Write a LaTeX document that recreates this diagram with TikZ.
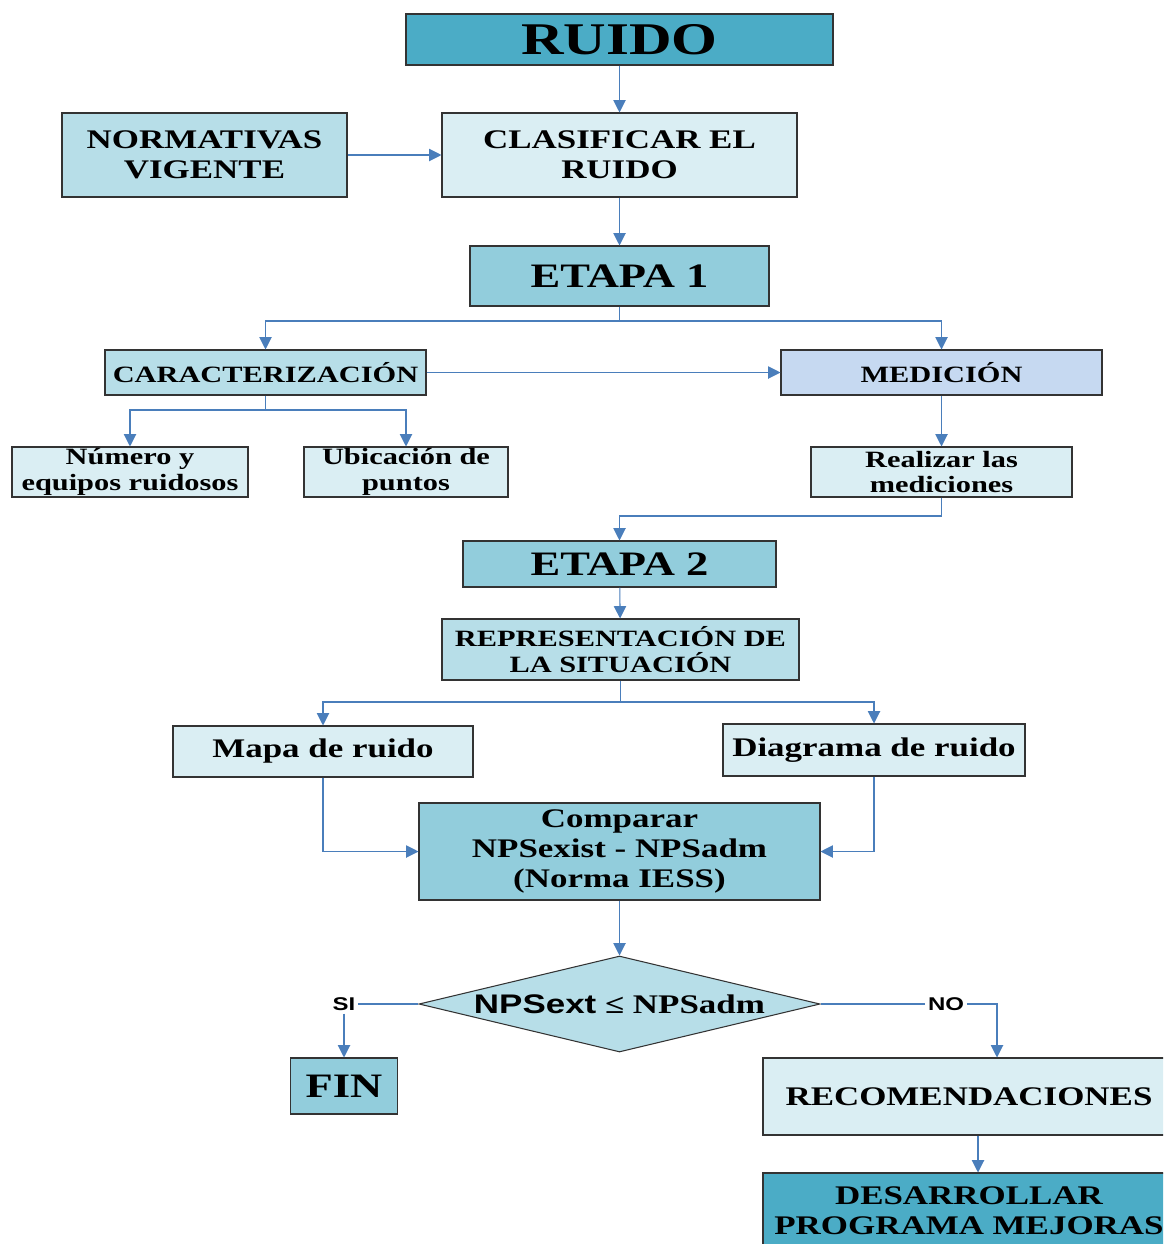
\documentclass[tikz,border=0pt]{standalone}
\usepackage{fontspec}
\setmainfont{Liberation Serif}[FakeStretch=1.3]
\newfontfamily\arialb{Liberation Sans}[FakeStretch=1.3]
\usetikzlibrary{arrows.meta,shapes.geometric}

\definecolor{tealbox}{HTML}{4BACC6}
\definecolor{midbox}{HTML}{92CDDC}
\definecolor{lightbox}{HTML}{B7DEE8}
\definecolor{palebox}{HTML}{DAEEF3}
\definecolor{medbox}{HTML}{C6D9F1}
\definecolor{linkblue}{HTML}{4A7EBB}

\begin{document}
\begin{tikzpicture}
[
	x=0.02cm,
	y=-0.02cm,
	box/.style={draw=black!80,line width=0.6pt,inner sep=0pt,align=center},
	sz/.style 2 args={minimum width=#1*0.02cm,minimum height=#2*0.02cm},
	txthuge/.style={font=\fontsize{25.8}{28}\selectfont\bfseries},
	txtbig/.style={font=\fontsize{19.5}{22}\selectfont\bfseries},
	txtmid/.style={font=\fontsize{15.3}{17}\selectfont\bfseries},
	txtsmall/.style={font=\fontsize{13.3}{14.5}\selectfont\bfseries},
	lbl/.style={font=\arialb\fontsize{10.5}{12}\selectfont\bfseries,inner sep=1.5pt},
	link/.style={draw=linkblue,line width=0.6pt,-{Triangle[length=7pt,width=7pt]}},
	plain/.style={draw=linkblue,line width=0.6pt}
]

	\path[use as bounding box,clip] (0,0) rectangle (1163,1244);

	% top
	\node[box,fill=tealbox,sz={427}{51},txthuge] (ruido) at (619.5,39.5) {RUIDO};
	\node[box,fill=lightbox,sz={285}{84},txtmid] (norm) at (204.5,155) {NORMATIVAS\\VIGENTE};
	\node[box,fill=palebox,sz={355}{84},txtmid] (clasif) at (619.5,155) {CLASIFICAR EL\\RUIDO};
	\node[box,fill=midbox,sz={299}{60},txtbig] (etapa1) at (619.5,276) {ETAPA 1};

	% etapa 1
	\node[box,fill=lightbox,sz={321}{45},txtsmall] (caract) at (265.5,372.5) {CARACTERIZACIÓN};
	\node[box,fill=medbox,sz={321}{45},txtsmall] (medicion) at (941.5,372.5) {MEDICIÓN};
	\node[box,fill=palebox,sz={236}{50},txtsmall] (numero) at (130,472) {Número y\\equipos ruidosos};
	\node[box,fill=palebox,sz={204}{50},txtsmall] (ubicacion) at (406,472) {Ubicación de\\puntos};
	\node[box,fill=palebox,sz={261}{50},txtsmall] (realizar) at (941.5,472) {Realizar las\\mediciones};

	% etapa 2
	\node[box,fill=midbox,sz={313}{46},txtbig] (etapa2) at (619.5,564) {ETAPA 2};
	\node[box,fill=lightbox,sz={357}{61},txtsmall] (repres) at (620.5,649.5) {REPRESENTACIÓN DE\\LA SITUACIÓN};
	\node[box,fill=palebox,sz={300}{51},txtmid] (mapa) at (323,751.5) {Mapa de ruido};
	\node[box,fill=palebox,sz={302}{52},txtmid] (diagrama) at (874,750) {Diagrama de ruido};
	\node[box,fill=midbox,sz={401}{97},txtmid] (comparar) at (619.5,851.5) {Comparar\\NPSexist - NPSadm\\(Norma IESS)};

	% decision
	\node[box,diamond,aspect=4.17,fill=lightbox,sz={401}{96},txtmid] (decision) at (619.5,1004) {{\arialb NPSext} ≤ NPSadm};
	\node[lbl] (si) at (344,1004) {SI};
	\node[lbl] (no) at (946,1004) {NO};
	\node[box,fill=midbox,sz={107}{56},txtbig] (fin) at (344,1086) {FIN};
	\node[box,fill=palebox,sz={412}{77},txtmid] (recomend) at (969,1096.5) {RECOMENDACIONES};
	\node[box,fill=tealbox,sz={412}{76},txtmid] (desarrollar) at (969,1211) {DESARROLLAR\\PROGRAMA MEJORAS};

	% connectors
	\coordinate (j1) at (619.5,321);
	\coordinate (j2) at (265.5,410);
	\coordinate (j3) at (941.5,516);
	\coordinate (j4) at (620.5,702);

	\draw[link] (ruido) -- (clasif);
	\draw[link] (norm) -- (clasif);
	\draw[link] (clasif) -- (etapa1);
	\draw[link] (etapa1.south) -- (j1) -| (caract.north);
	\draw[link] (j1) -| (medicion.north);
	\draw[link] (caract) -- (medicion);
	\draw[link] (caract.south) -- (j2) -| (numero.north);
	\draw[link] (j2) -| (ubicacion.north);
	\draw[link] (medicion) -- (realizar);
	\draw[link] (realizar.south) -- (j3) -| (etapa2.north);
	\draw[link] (etapa2) -- (repres);
	\draw[link] (repres.south) -- (j4) -| (mapa.north);
	\draw[link] (j4) -| (diagrama.north);
	\draw[link] (mapa.south) |- (comparar.west);
	\draw[link] (diagrama.south) |- (comparar.east);
	\draw[link] (comparar) -- (decision);
	\draw[plain] (decision.west) -- (si.east);
	\draw[link] (si.south) -- (fin.north);
	\draw[plain] (decision.east) -- (no.west);
	\draw[link] (no.east) -| ([xshift=0.56cm]recomend.north);
	\draw[link] ([xshift=0.18cm]recomend.south) -- ([xshift=0.18cm]desarrollar.north);

\end{tikzpicture}
\end{document}
